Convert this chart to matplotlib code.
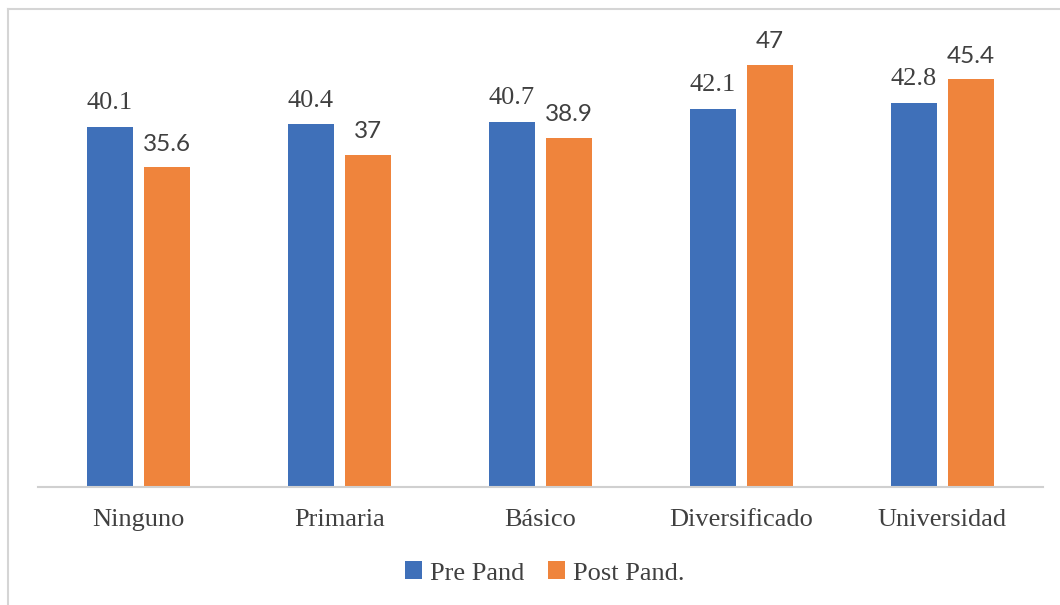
import matplotlib.pyplot as plt
import numpy as np

categories = ['Ninguno', 'Primaria', 'Básico', 'Diversificado', 'Universidad']
pre_pand = [40.1, 40.4, 40.7, 42.1, 42.8]
post_pand = [35.6, 37, 38.9, 47, 45.4]
pre_labels = ['40.1', '40.4', '40.7', '42.1', '42.8']
post_labels = ['35.6', '37', '38.9', '47', '45.4']

blue = '#3F70B9'
orange = '#EF843C'
text_color = '#404040'

fig = plt.figure(figsize=(10.6, 6.05), dpi=100)
ax = fig.add_axes([38 / 1060, 1 - 487 / 605, (1043 - 38) / 1060, 449 / 605])

x = np.arange(len(categories))
width = 0.229
offset = 0.143
bars_pre = ax.bar(x - offset, pre_pand, width, color=blue, label='Pre Pand')
bars_post = ax.bar(x + offset, post_pand, width, color=orange, label='Post Pand.')

for rect, lab in zip(bars_pre, pre_labels):
    ax.annotate(lab, (rect.get_x() + rect.get_width() / 2, rect.get_height()),
                xytext=(0, 9), textcoords='offset points', ha='center', va='bottom',
                fontsize=19, family='Liberation Serif', color=text_color)
for rect, lab in zip(bars_post, post_labels):
    ax.annotate(lab, (rect.get_x() + rect.get_width() / 2, rect.get_height()),
                xytext=(0, 9), textcoords='offset points', ha='center', va='bottom',
                fontsize=17.5, family='Lato', color=text_color)

ax.set_xlim(-0.5, len(categories) - 0.5)
ax.set_ylim(0, 50)
ax.set_yticks([])
ax.set_xticks(x)
ax.set_xticklabels(categories, fontsize=19, family='Liberation Serif', color=text_color)
ax.tick_params(axis='x', length=0, pad=16)
for side in ['top', 'right', 'left']:
    ax.spines[side].set_visible(False)
ax.spines['bottom'].set_color('#D0D0D0')
ax.spines['bottom'].set_linewidth(1.5)

leg = fig.legend(loc='center', bbox_to_anchor=(545 / 1060, 1 - 573 / 605), ncol=2, frameon=False,
                 prop={'family': 'Liberation Serif', 'size': 19}, handlelength=0.65,
                 handleheight=0.65, handletextpad=0.3, columnspacing=0.9)
for t in leg.get_texts():
    t.set_color(text_color)

# outer chart frame (only top and left edges are visible in the crop)
fig.add_artist(plt.Line2D([8 / 1060, 8 / 1060], [0, 1 - 9 / 605], color='#D5D5D5', lw=1.5,
                          transform=fig.transFigure))
fig.add_artist(plt.Line2D([8 / 1060, 1], [1 - 9 / 605, 1 - 9 / 605], color='#D5D5D5', lw=1.5,
                          transform=fig.transFigure))

plt.savefig('out.png')
